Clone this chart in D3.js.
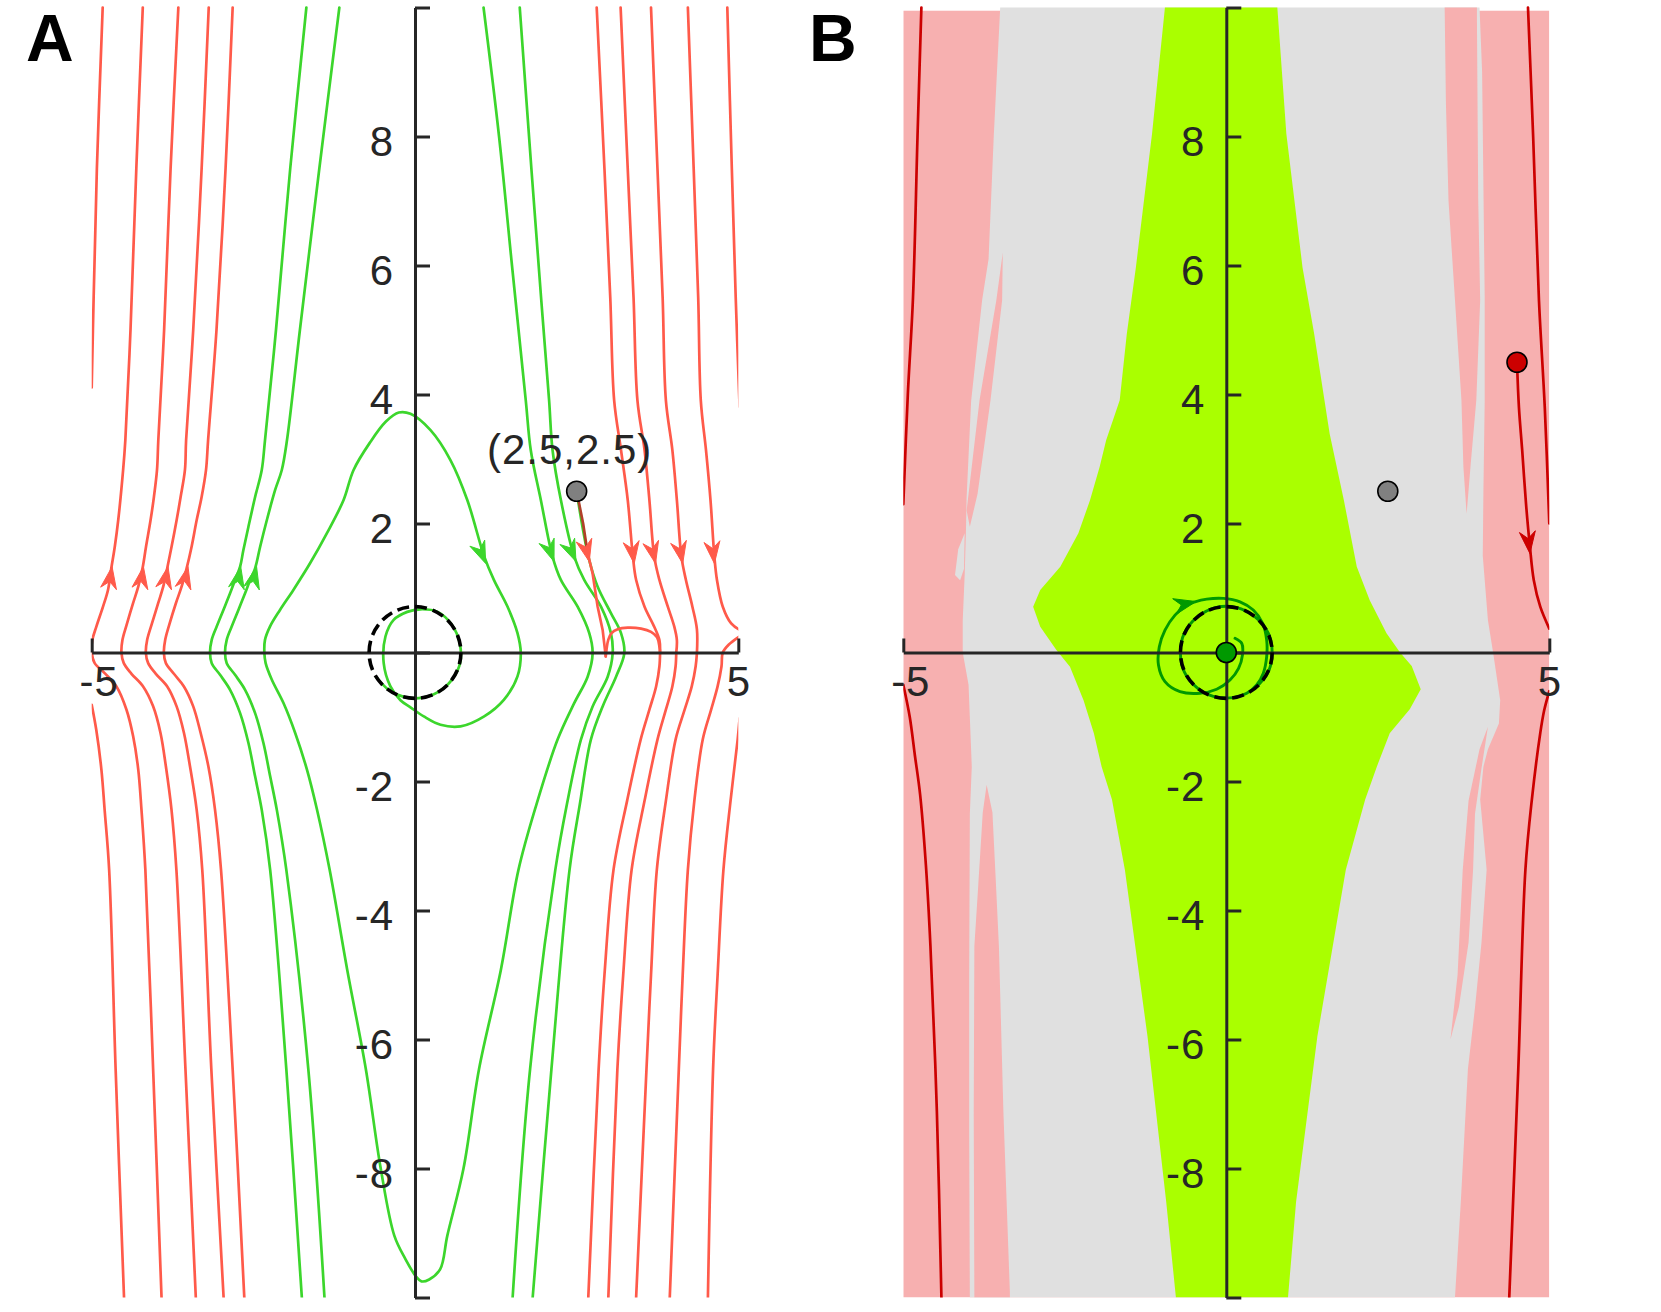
<!DOCTYPE html>
<html><head><meta charset="utf-8">
<script src="https://cdnjs.cloudflare.com/ajax/libs/d3/7.8.5/d3.min.js"></script>
<style>body{margin:0;background:#fff}svg{display:block}</style>
</head><body><svg id="c" width="1661" height="1312"></svg>
<script>
// ================= DATA =================
// axis ticks
const yTickValues = [-10,-8,-6,-4,-2,0,2,4,6,8,10];
const yTickLabels = ["","-8","-6","-4","-2","","2","4","6","8",""];
const xTickValues = [-5,5];
const xTickLabels = ["-5","5"];
const panelLabels = ["A","B"];

// Panel A trajectories [x, y]
const redA_exitTopLeft = [[-5.0,4.11],[-4.97,5.5],[-4.92,7.5],[-4.83,10]];
const redA_T1 = [[-3.92,-10],[-4.05,-6.46],[-4.17,-3.37],[-4.23,-2.44],[-4.28,-1.815],[-4.359,-1.30],[-4.462,-0.887],[-4.617,-0.526],[-4.80,-0.319],[-4.954,-0.165],[-5.0,0],[-4.99,0.196],[-4.928,0.402],[-4.825,0.712],[-4.748,0.97],[-4.697,1.305],[-4.643,1.64],[-4.59,2.05],[-4.514,2.83],[-4.48,3.29],[-4.40,5],[-4.31,7.5],[-4.21,10]];
const redA_T2 = [[-3.39,-10],[-3.55,-6.46],[-3.69,-3.37],[-3.766,-2.435],[-3.853,-1.764],[-3.936,-1.248],[-4.05,-0.835],[-4.205,-0.526],[-4.385,-0.33],[-4.504,-0.165],[-4.54,0],[-4.524,0.196],[-4.46,0.428],[-4.36,0.764],[-4.28,1.02],[-4.214,1.305],[-4.16,1.64],[-4.09,2.05],[-4.038,2.41],[-3.99,2.83],[-3.97,3.29],[-3.88,5],[-3.78,7.5],[-3.66,10]];
const redA_T3 = [[-2.96,-10],[-3.15,-6.46],[-3.29,-3.37],[-3.377,-2.435],[-3.48,-1.764],[-3.573,-1.248],[-3.687,-0.835],[-3.832,-0.526],[-4.008,-0.33],[-4.127,-0.165],[-4.163,0],[-4.142,0.196],[-4.075,0.428],[-3.972,0.764],[-3.894,1.02],[-3.832,1.305],[-3.765,1.64],[-3.687,2.05],[-3.625,2.41],[-3.558,2.83],[-3.54,3.29],[-3.43,5],[-3.30,7.5],[-3.19,10]];
const redA_T4 = [[-2.64,-10],[-2.82,-6.46],[-3.0,-3.37],[-3.093,-2.435],[-3.196,-1.764],[-3.315,-1.248],[-3.43,-0.835],[-3.574,-0.526],[-3.729,-0.33],[-3.853,-0.165],[-3.884,0],[-3.863,0.196],[-3.801,0.428],[-3.698,0.764],[-3.61,1.02],[-3.532,1.305],[-3.455,1.64],[-3.377,2.05],[-3.30,2.41],[-3.232,2.83],[-3.2,3.29],[-3.07,5],[-2.93,7.5],[-2.82,10]];
const redA_L1 = [[-5.0,-0.81],[-4.93,-1.195],[-4.85,-1.815],[-4.80,-2.44],[-4.73,-3.37],[-4.63,-6.46],[-4.5,-10]];

const redA_exitTopRight = [[4.83,10],[4.90,7.5],[4.96,5.5],[5.02,3.81]];
const redA_U1 = [[2.81,10],[2.93,7.5],[3.02,5.5],[3.08,3.91],[3.186,3.14],[3.29,2.364],[3.37,1.486],[3.42,1.125],[3.55,0.71],[3.70,0.40],[3.78,0.193],[3.79,-0.01]];
const redA_U2 = [[3.18,10],[3.29,7.5],[3.38,5.5],[3.44,3.91],[3.55,3.14],[3.625,2.364],[3.70,1.486],[3.78,1.125],[3.91,0.71],[4.01,0.40],[4.05,0.193],[4.04,-0.01]];
const redA_U3 = [[3.65,10],[3.75,7.5],[3.83,5.5],[3.88,3.91],[3.98,3.14],[4.05,2.364],[4.12,1.486],[4.19,1.125],[4.29,0.71],[4.36,0.36],[4.36,-0.01]];
const redA_U4 = [[4.22,10],[4.31,7.5],[4.38,5.5],[4.42,3.91],[4.50,3.14],[4.57,2.364],[4.63,1.486],[4.67,1.125],[4.76,0.71],[4.89,0.45],[5.02,0.35]];
const redA_D1 = [[3.79,-0.01],[3.78,-0.217],[3.729,-0.526],[3.625,-0.887],[3.49,-1.35],[3.28,-2.3],[3.07,-3.37],[2.93,-5],[2.84,-6.46],[2.68,-10]];
const redA_D2 = [[4.04,-0.01],[4.03,-0.217],[3.98,-0.526],[3.88,-0.887],[3.75,-1.35],[3.55,-2.3],[3.35,-3.37],[3.22,-5],[3.13,-6.46],[2.99,-10]];
const redA_D3 = [[4.36,-0.01],[4.34,-0.217],[4.28,-0.526],[4.17,-0.887],[4.03,-1.35],[3.88,-2.3],[3.74,-3.37],[3.65,-5],[3.58,-6.46],[3.42,-10]];
const redA_D4 = [[5.02,0.25],[4.85,0.12],[4.76,0],[4.74,-0.217],[4.68,-0.526],[4.58,-0.887],[4.45,-1.35],[4.32,-2.3],[4.22,-3.37],[4.14,-5],[4.08,-6.46],[3.94,-10]];
const redA_D5 = [[5.02,-1.02],[4.99,-1.35],[4.88,-2.3],[4.77,-3.37],[4.68,-5],[4.61,-6.46],[4.53,-10]];
const redA_fromPoint = [[2.5,2.5],[2.6,2.0],[2.67,1.54],[2.747,1.226],[2.825,0.71],[2.902,0.35],[2.95,-0.06]];
const redA_fromPointArc = [[2.95,-0.06],[2.965,0.07],[2.99,0.2],[3.04,0.30],[3.135,0.36],[3.29,0.385],[3.496,0.37],[3.65,0.32],[3.744,0.235],[3.78,0.09],[3.79,-0.01]];

const greenA_G1 = [[-1.75,-10],[-1.99,-6.46],[-2.24,-3.37],[-2.37,-2.44],[-2.473,-1.92],[-2.576,-1.404],[-2.705,-0.94],[-2.86,-0.578],[-3.015,-0.346],[-3.144,-0.165],[-3.17,0],[-3.144,0.196],[-3.067,0.402],[-2.963,0.66],[-2.86,0.918],[-2.783,1.124],[-2.705,1.33],[-2.654,1.588],[-2.576,1.95],[-2.473,2.41],[-2.37,2.83],[-2.32,3.29],[-2.15,5],[-1.93,7.5],[-1.68,10]];
const greenA_G2 = [[-1.40,-10],[-1.65,-6.46],[-1.99,-3.37],[-2.137,-2.44],[-2.24,-1.92],[-2.344,-1.404],[-2.473,-0.94],[-2.628,-0.578],[-2.783,-0.346],[-2.912,-0.165],[-2.938,0],[-2.912,0.196],[-2.835,0.402],[-2.731,0.66],[-2.628,0.918],[-2.55,1.124],[-2.473,1.305],[-2.395,1.64],[-2.292,2.05],[-2.163,2.52],[-2.06,2.83],[-1.98,3.29],[-1.78,5],[-1.48,7.5],[-1.17,10]];
const greenA_main = [[1.06,10],[1.3,8],[1.5,6],[1.713,3.91],[1.79,3.14],[1.946,2.364],[2.127,1.486],[2.256,1.125],[2.515,0.71],[2.695,0.30],[2.747,-0.01],[2.67,-0.375],[2.462,-0.786],[2.205,-1.35],[1.88,-2.35],[1.6,-3.37],[1.33,-4.91],[0.99,-6.46],[0.75,-8.0],[0.5,-9.04],[0.39,-9.56],[0.22,-9.72],[0.1,-9.75],[0.02,-9.68],[-0.15,-9.4],[-0.32,-9.04],[-0.53,-8.0],[-0.76,-6.46],[-1.05,-4.91],[-1.32,-3.37],[-1.516,-2.435],[-1.671,-1.816],[-1.853,-1.248],[-2.034,-0.784],[-2.214,-0.423],[-2.31,-0.165],[-2.33,0],[-2.32,0.196],[-2.243,0.402],[-2.088,0.66],[-1.881,0.97],[-1.623,1.383],[-1.364,1.847],[-1.106,2.36],[-0.95,2.83],[-0.7,3.25],[-0.45,3.58],[-0.25,3.72],[-0.07,3.70],[0.24,3.447],[0.55,2.98],[0.81,2.36],[1.07,1.49],[1.22,1.125],[1.43,0.712],[1.585,0.30],[1.636,-0.01],[1.585,-0.37],[1.377,-0.73],[1.07,-0.99],[0.705,-1.145],[0.395,-1.12],[0.136,-0.99],[-0.07,-0.85],[-0.225,-0.74],[-0.38,-0.526],[-0.484,-0.164],[-0.457,0.248],[-0.33,0.506],[-0.12,0.63],[0.085,0.67],[0.35,0.63],[0.57,0.43],[0.69,0.15],[0.70,-0.15],[0.58,-0.41],[0.38,-0.6],[0.12,-0.70],[-0.15,-0.695],[-0.4,-0.585],[-0.6,-0.38]];
const greenA_GB = [[1.62,10],[1.8,7.5],[1.95,5.5],[2.074,3.91],[2.127,3.14],[2.256,2.364],[2.462,1.486],[2.617,1.125],[2.876,0.71],[3.03,0.30],[3.057,-0.01],[2.98,-0.375],[2.747,-0.836],[2.566,-1.35],[2.35,-2.35],[2.17,-3.37],[1.78,-6.46],[1.51,-10]];
const greenA_fromPoint = [[2.5,2.5],[2.59,1.95],[2.695,1.43],[2.825,1.02],[3.03,0.61],[3.186,0.30],[3.237,-0.01],[3.109,-0.375],[2.902,-0.836],[2.72,-1.35],[2.55,-2.35],[2.39,-3.37],[2.11,-6.46],[1.82,-10]];

// arrowheads: [tipX, tipY]
const arrowTipsA = {
  T1:[-4.685,1.33], T2:[-4.20,1.33], T3:[-3.82,1.33], T4:[-3.51,1.33],
  G1:[-2.695,1.33], G2:[-2.45,1.33], main:[1.093,1.38], mainR:[2.15,1.41], GB:[2.49,1.41],
  fromPoint:[2.695,1.41], U1:[3.39,1.38], U2:[3.72,1.38], U3:[4.14,1.38], U4:[4.63,1.38]
};

// limit cycle and points
const limitCycle = {cx:0, cy:0, r:0.71};
const initialPoint = [2.5,2.5];
const initialPointLabel = "(2.5,2.5)";

// Panel B regions (polygons [x,y])
const regionB_gray = [[-3.50,10],[-3.60,8.0],[-3.68,6.1],[-3.78,5.46],[-3.95,3.9],[-4.02,2.4],[-4.03,1.9],[-4.05,1.2],[-4.08,0.5],[-4.08,0.0],[-3.99,-0.5],[-3.94,-1.77],[-3.97,-2.5],[-3.98,-5],[-3.98,-7.5],[-3.97,-10],
  [3.54,-10],[3.63,-8.52],[3.74,-6.46],[3.85,-5.5],[3.95,-4.5],[4.03,-3.37],[3.93,-2.28],[3.98,-1.77],[4.05,-1.5],[4.22,-1.1],[4.24,-0.74],[4.13,0],[4.05,0.5],[3.97,1.5],[3.98,2.5],[4.0,3.9],[4.0,5.5],[3.96,9.0],[3.92,10]];
const regionB_pinkUpperLeft = [[-3.46,6.2],[-3.47,5.46],[-3.65,3.91],[-3.85,2.46],[-3.97,1.95],[-4.02,2.2],[-3.82,3.91],[-3.56,5.46]];
const regionB_grayNotchLeft = [[-4.05,1.85],[-4.15,1.6],[-4.2,1.2],[-4.12,1.12],[-4.06,1.3]];
const regionB_pinkLowerLeft = [[-3.71,-2.05],[-3.62,-2.48],[-3.57,-3.5],[-3.52,-4.55],[-3.45,-7.13],[-3.35,-9.92],[-3.35,-10],[-3.90,-10],[-3.91,-7.13],[-3.90,-4.55],[-3.85,-3.77],[-3.77,-2.48]];
const regionB_pinkUpperRight = [[3.38,10],[3.88,10],[3.88,9.8],[3.90,7.0],[3.93,5.46],[3.87,3.91],[3.78,2.88],[3.72,2.15],[3.67,2.88],[3.64,3.91],[3.54,5.46],[3.44,7.0],[3.40,8.5]];
const regionB_pinkLowerRight = [[4.05,-1.15],[3.95,-1.8],[3.85,-2.5],[3.82,-3.37],[3.75,-4.5],[3.6,-5.5],[3.47,-6.0],[3.58,-5.0],[3.66,-3.37],[3.75,-2.3],[3.92,-1.5]];
const regionB_green = [[-0.95,10],[-1.15,8.04],[-1.4,5.97],[-1.54,4.94],[-1.65,3.91],[-1.86,3.29],[-1.96,2.88],[-2.11,2.36],[-2.29,1.85],[-2.57,1.33],[-2.88,0.97],[-2.99,0.71],[-2.88,0.40],[-2.63,0.04],[-2.42,-0.22],[-2.21,-0.74],[-2.05,-1.25],[-1.93,-1.77],[-1.77,-2.28],[-1.57,-3.37],[-1.22,-5.95],[-0.93,-8.52],[-0.78,-10],
  [0.955,-10],[1.08,-8.52],[1.41,-5.95],[1.85,-3.37],[2.15,-2.28],[2.33,-1.77],[2.53,-1.25],[2.84,-0.88],[3.01,-0.57],[2.87,-0.21],[2.69,0],[2.48,0.30],[2.22,0.81],[2.02,1.33],[1.82,2.36],[1.60,3.39],[1.36,4.94],[1.18,5.97],[0.93,8.04],[0.79,10]];

// Panel B trajectories
const redB_topLeft = [[-4.72,10],[-4.78,8],[-4.85,5.5],[-4.93,4],[-5.0,2.3]];
const redB_bottomLeft = [[-5.0,-0.5],[-4.9,-1.0],[-4.82,-1.6],[-4.74,-2.2],[-4.65,-3.3],[-4.58,-4.55],[-4.48,-7.13],[-4.41,-10]];
const redB_topRight = [[4.67,10],[4.75,8],[4.84,5.46],[4.93,3.8],[5.0,2.0]];
const redB_fromPoint = [[4.5,4.5],[4.53,3.8],[4.58,3.14],[4.64,2.3],[4.70,1.64],[4.76,1.12],[4.86,0.71],[5.0,0.37]];
const redB_bottomRight = [[5.0,-0.6],[4.92,-0.9],[4.86,-1.25],[4.73,-2.28],[4.63,-3.37],[4.52,-6.46],[4.38,-10]];
const greenB_spiral = [[0.135,0.22],[0.24,0.14],[0.25,-0.04],[0.19,-0.245],[0.057,-0.426],[-0.149,-0.57],[-0.407,-0.632],[-0.717,-0.607],[-0.949,-0.452],[-1.05,-0.194],[-1.037,0.09],[-0.949,0.348],[-0.794,0.58],[-0.613,0.735],[-0.485,0.786],[-0.303,0.828],[-0.046,0.839],[0.212,0.786],[0.418,0.658],[0.563,0.452],[0.625,0.193],[0.625,-0.065],[0.573,-0.322],[0.47,-0.503],[0.316,-0.632],[0.108,-0.70],[-0.2,-0.68],[-0.45,-0.55],[-0.65,-0.3],[-0.71,0],[-0.65,0.3],[-0.45,0.55],[-0.15,0.7],[0.15,0.7],[0.45,0.55],[0.65,0.3],[0.71,0],[0.65,-0.3],[0.45,-0.55]];
const arrowTipsB = { spiral:[-0.47,0.79], fromPoint:[4.70,1.535] };
const redPointB = [4.5,4.5];
const equilibriumB = [0,0];

// ================= STYLE =================
const RED_A="#ff5a4a", GREEN_A="#3cd62c", BROWN_A="#b0402a", RED_B="#cc0000", GREEN_B="#009900",
      PINK="#f7b0b0", GRAY="#e0e0e0", LIME="#aaff00", AXIS="#262626";
const FONT = "'Liberation Sans', Arial, Helvetica, sans-serif";
const TICK_FONT_SIZE = "42px";

// ================= SCALES =================
const svg = d3.select("#c");
const y = d3.scaleLinear().domain([-10,10]).range([1297.5,7.5]);
const xA = d3.scaleLinear().domain([-5,5]).range([91.7,738.3]);
const xB = d3.scaleLinear().domain([-5,5]).range([903.3,1549.3]);

const defs = svg.append("defs");
function clip(id, xs){
  defs.append("clipPath").attr("id",id).append("rect")
    .attr("x",xs(-5)).attr("y",y(10)-2).attr("width",xs(5)-xs(-5)).attr("height",y(-10)-y(10)+2);
}
clip("clipA", xA); clip("clipB", xB);

function lineGen(xs, curve){ return d3.line().x(d=>xs(d[0])).y(d=>y(d[1])).curve(curve||d3.curveCatmullRom.alpha(0.5)); }

function drawCurve(g, xs, pts, color, w, curve){
  g.append("path").attr("d", lineGen(xs, curve)(pts)).attr("fill","none")
   .attr("stroke",color).attr("stroke-width",w||2.7).attr("stroke-linejoin","round").attr("stroke-linecap","round");
}
function drawArrow(g, xs, pts, tip, dir, color){
  const P = pts.map(p=>[xs(p[0]), y(p[1])]);
  const T = [xs(tip[0]), y(tip[1])];
  let best=1e18, bi=0;
  for(let i=0;i<P.length-1;i++){
    const a=P[i], b=P[i+1], dx=b[0]-a[0], dy=b[1]-a[1], L2=dx*dx+dy*dy||1;
    let t=((T[0]-a[0])*dx+(T[1]-a[1])*dy)/L2; t=Math.max(0,Math.min(1,t));
    const d=(a[0]+t*dx-T[0])**2+(a[1]+t*dy-T[1])**2;
    if(d<best){best=d;bi=i;}
  }
  let ux=P[bi+1][0]-P[bi][0], uy=P[bi+1][1]-P[bi][1];
  const L=Math.hypot(ux,uy)||1; ux=ux/L*dir; uy=uy/L*dir;
  const nx=-uy, ny=ux, len=22, hw=8, notch=15;
  const q=[[T[0],T[1]],[T[0]-len*ux+hw*nx,T[1]-len*uy+hw*ny],[T[0]-notch*ux,T[1]-notch*uy],[T[0]-len*ux-hw*nx,T[1]-len*uy-hw*ny]];
  g.append("path").attr("d","M"+q.map(p=>p.join(",")).join("L")+"Z").attr("fill",color).attr("stroke",color).attr("stroke-width",1).attr("stroke-linejoin","round");
}

function drawAxes(g, xs){
  const yAx = g.append("g").attr("transform",`translate(${xs(0)},0)`)
    .call(d3.axisRight(y).tickValues(yTickValues).tickSize(15).tickSizeOuter(0).tickFormat((d,i)=>yTickLabels[i]));
  yAx.select(".domain").attr("stroke",AXIS).attr("stroke-width",3);
  yAx.selectAll(".tick line").attr("stroke",AXIS).attr("stroke-width",3);
  yAx.selectAll(".tick text").attr("x",-21).attr("dy","0.45em").attr("text-anchor","end")
     .attr("fill",AXIS).style("font-family",FONT).style("font-size",TICK_FONT_SIZE).style("letter-spacing","1px");
  const xAx = g.append("g").attr("transform",`translate(0,${y(0)})`)
    .call(d3.axisTop(xs).tickValues(xTickValues).tickSize(14).tickSizeOuter(0).tickFormat((d,i)=>xTickLabels[i]));
  xAx.select(".domain").attr("stroke",AXIS).attr("stroke-width",3);
  xAx.selectAll(".tick line").attr("stroke",AXIS).attr("stroke-width",3);
  xAx.selectAll(".tick text").attr("y",43).attr("dy","0").attr("text-anchor","middle")
     .attr("dx",d=>d<0?7:0)
     .attr("fill",AXIS).style("font-family",FONT).style("font-size",TICK_FONT_SIZE).style("letter-spacing","1px");
}
function drawLimitCycle(g, xs){
  const r = xs(limitCycle.r)-xs(0);
  g.append("circle").attr("cx",xs(limitCycle.cx)).attr("cy",y(limitCycle.cy)).attr("r",r)
   .attr("fill","none").attr("stroke","#000").attr("stroke-width",3.6).attr("stroke-dasharray","12,6");
}
function dot(g, xs, p, fill){
  g.append("circle").attr("cx",xs(p[0])).attr("cy",y(p[1])).attr("r",10)
   .attr("fill",fill).attr("stroke","#000").attr("stroke-width",1.6);
}

// ================= PANEL A =================
const gA = svg.append("g");
const cA = gA.append("g").attr("clip-path","url(#clipA)");
[greenA_G1, greenA_G2, greenA_main, greenA_GB, greenA_fromPoint].forEach(c=>drawCurve(cA,xA,c,GREEN_A));
[redA_exitTopLeft, redA_T1, redA_T2, redA_T3, redA_T4, redA_L1, redA_exitTopRight, redA_U1, redA_U2, redA_U3, redA_U4,
 redA_D1, redA_D2, redA_D3, redA_D4, redA_D5].forEach(c=>drawCurve(cA,xA,c,RED_A));
drawCurve(cA,xA,redA_fromPoint.slice(0,3),BROWN_A,2.7,d3.curveLinear);
drawCurve(cA,xA,redA_fromPoint.slice(2),RED_A,2.7,d3.curveLinear);
drawCurve(cA,xA,redA_fromPointArc,RED_A);

drawArrow(cA,xA,redA_T1,arrowTipsA.T1,1,RED_A);
drawArrow(cA,xA,redA_T2,arrowTipsA.T2,1,RED_A);
drawArrow(cA,xA,redA_T3,arrowTipsA.T3,1,RED_A);
drawArrow(cA,xA,redA_T4,arrowTipsA.T4,1,RED_A);
drawArrow(cA,xA,greenA_G1,arrowTipsA.G1,1,GREEN_A);
drawArrow(cA,xA,greenA_G2,arrowTipsA.G2,1,GREEN_A);
drawArrow(cA,xA,greenA_main,arrowTipsA.main,1,GREEN_A);
drawArrow(cA,xA,greenA_main,arrowTipsA.mainR,1,GREEN_A);
drawArrow(cA,xA,greenA_GB,arrowTipsA.GB,1,GREEN_A);
drawArrow(cA,xA,redA_fromPoint,arrowTipsA.fromPoint,1,RED_A);
drawArrow(cA,xA,redA_U1,arrowTipsA.U1,1,RED_A);
drawArrow(cA,xA,redA_U2,arrowTipsA.U2,1,RED_A);
drawArrow(cA,xA,redA_U3,arrowTipsA.U3,1,RED_A);
drawArrow(cA,xA,redA_U4,arrowTipsA.U4,1,RED_A);

drawAxes(gA, xA);
drawLimitCycle(gA, xA);
dot(gA, xA, initialPoint, "#808080");
gA.append("text").attr("x",xA(initialPoint[0])-7).attr("y",y(initialPoint[1])-27)
  .attr("text-anchor","middle").attr("fill",AXIS).style("font-family",FONT).style("font-size",TICK_FONT_SIZE).style("letter-spacing","1px")
  .text(initialPointLabel);

// ================= PANEL B =================
const gB = svg.append("g");
const cB = gB.append("g").attr("clip-path","url(#clipB)");
cB.append("rect").attr("x",xB(-5)).attr("y",y(9.95)).attr("width",xB(5)-xB(-5)).attr("height",y(-10)-y(9.95)).attr("fill",PINK);
function poly(g, pts, fill){ g.append("path").attr("d", lineGen(xB, d3.curveLinearClosed)(pts)).attr("fill",fill).attr("stroke","none"); }
poly(cB, regionB_gray, GRAY);
poly(cB, regionB_pinkUpperLeft, PINK);
poly(cB, regionB_grayNotchLeft, GRAY);
poly(cB, regionB_pinkLowerLeft, PINK);
poly(cB, regionB_pinkUpperRight, PINK);
poly(cB, regionB_pinkLowerRight, PINK);
poly(cB, regionB_green, LIME);

[redB_topLeft, redB_bottomLeft, redB_topRight, redB_fromPoint, redB_bottomRight].forEach(c=>drawCurve(cB,xB,c,RED_B,2.7));
drawCurve(cB,xB,greenB_spiral,GREEN_B,2.9);
drawArrow(cB,xB,redB_fromPoint,arrowTipsB.fromPoint,1,RED_B);
drawArrow(cB,xB,greenB_spiral,arrowTipsB.spiral,1,GREEN_B);

drawAxes(gB, xB);
drawLimitCycle(gB, xB);
dot(gB, xB, equilibriumB, GREEN_B);
dot(gB, xB, initialPoint, "#808080");
dot(gB, xB, redPointB, RED_B);

// panel letters
svg.append("text").attr("x",26).attr("y",61).text(panelLabels[0])
  .style("font-family",FONT).style("font-weight","bold").style("font-size","66px").attr("fill","#000");
svg.append("text").attr("x",809).attr("y",61).text(panelLabels[1])
  .style("font-family",FONT).style("font-weight","bold").style("font-size","66px").attr("fill","#000");
</script></body></html>
